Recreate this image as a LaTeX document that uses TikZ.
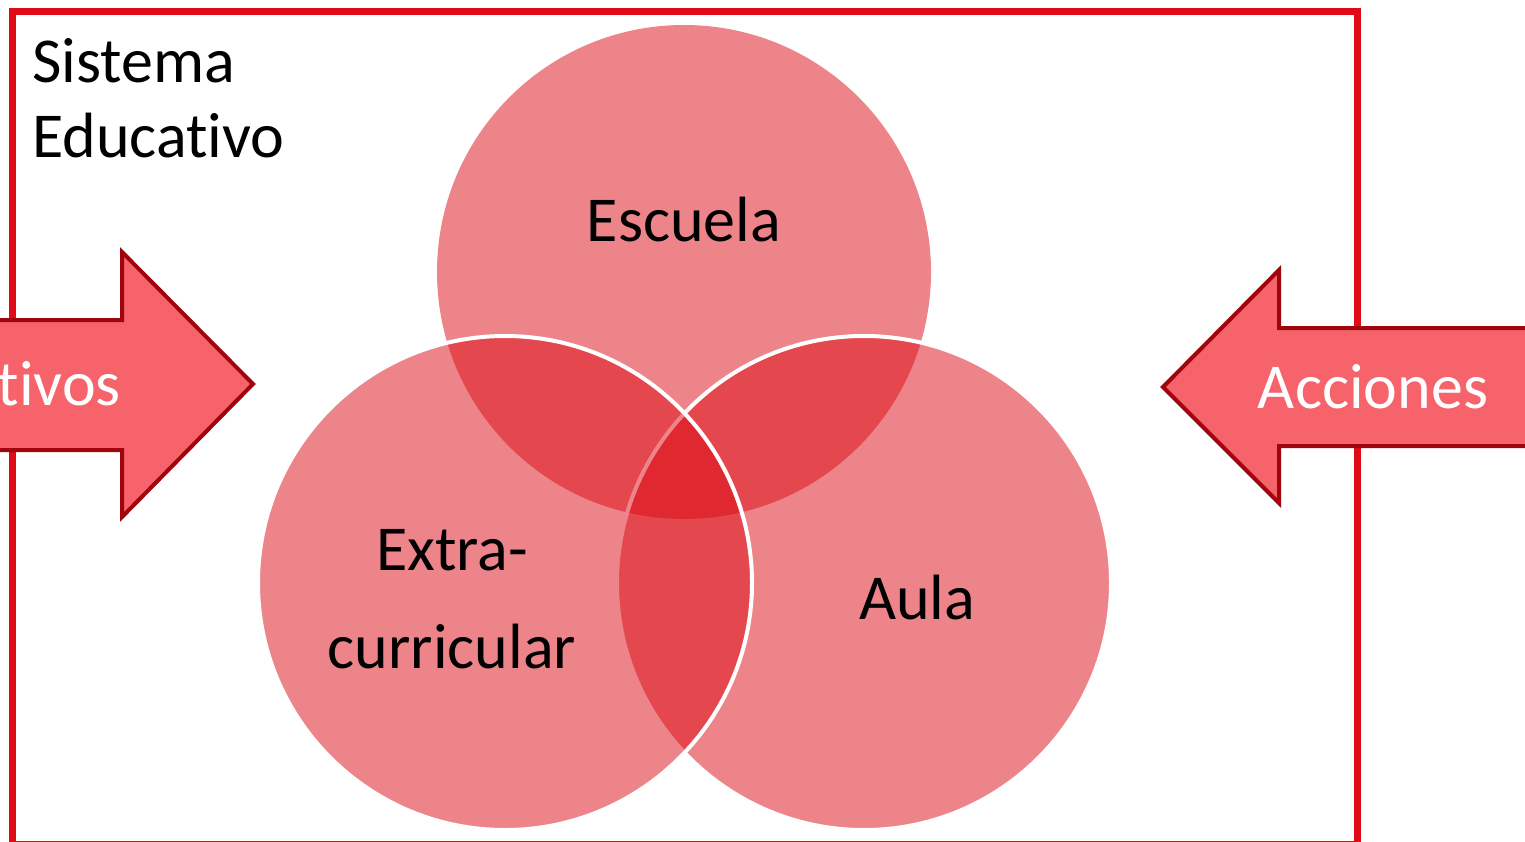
\documentclass[tikz,border=0pt]{standalone}
\usepackage{fontspec}
\setmainfont{Carlito}[Ligatures=NoCommon]
\definecolor{vennred}{RGB}{221,11,21}
\definecolor{framered}{RGB}{224,11,22}
\definecolor{arrowfill}{RGB}{246,99,107}
\definecolor{arrowline}{RGB}{160,5,14}
\tikzset{
  venn/.style={fill=vennred,fill opacity=0.5},
  vennline/.style={draw=white,line width=4pt},
  blockarrow/.style={fill=arrowfill,draw=arrowline,line width=4pt,line join=miter},
  bigtext/.style={inner sep=0pt,font=\fontsize{64}{75}\selectfont},
}
\begin{document}
\begin{tikzpicture}[x=1pt,y=-1pt]
    \useasboundingbox (0,0) rectangle (1525,842);
    \clip (0,0) rectangle (1525,842);
    \fill[white] (0,0) rectangle (1525,842);
    % frame
    \draw[framered,line width=7pt] (12,12) rectangle (1357,844);
    \node[bigtext,anchor=base west] (sistema) at (32,83) {Sistema};
    \node[bigtext,anchor=base west] (educativo) at (32,158) {Educativo};
    % venn
    \fill[venn] (684,272) circle[radius=247];
    \fill[venn] (864,583) circle[radius=247];
    \draw[vennline] (864,583) circle[radius=247];
    \fill[venn] (505,583) circle[radius=247];
    \draw[vennline] (505,583) circle[radius=247];
    \node[bigtext,anchor=base] (escuela) at (684,242) {Escuela};
    \node[bigtext,anchor=base] (extra) at (452,570) {Extra-};
    \node[bigtext,anchor=base] (curricular) at (452,668) {curricular};
    \node[bigtext,anchor=base] (aula) at (917,619) {Aula};
    % arrows
    \draw[blockarrow] (-20,320) -- (122,320) -- (122,252) -- (253,384)
      -- (122,517) -- (122,450) -- (-20,450) -- cycle;
    \node[bigtext,anchor=base east,white] (objetivos) at (121,405) {tivos};
    \draw[blockarrow] (1545,328) -- (1279,328) -- (1279,270) -- (1163,387)
      -- (1279,503) -- (1279,446) -- (1545,446) -- cycle;
    \node[bigtext,anchor=base,white] (acciones) at (1373,408) {Acciones};
\end{tikzpicture}
\end{document}
